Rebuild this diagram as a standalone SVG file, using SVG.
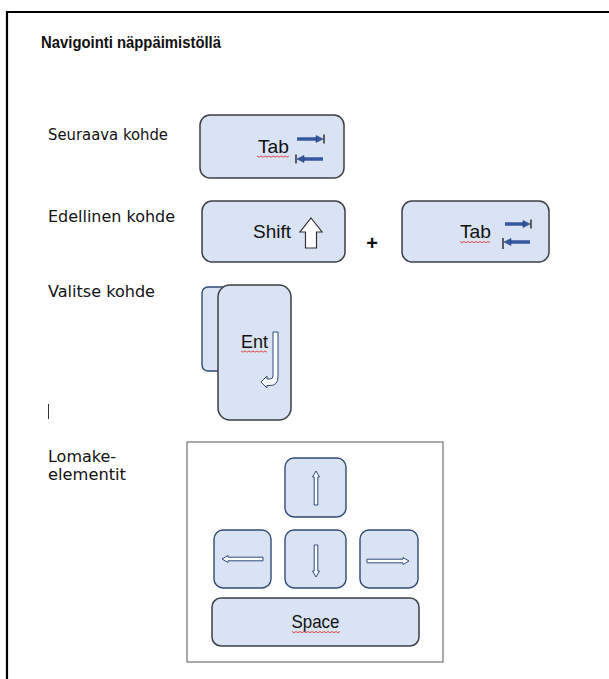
<svg xmlns="http://www.w3.org/2000/svg" width="609" height="679" viewBox="0 0 609 679">
<style>
.lbl{font-family:"DejaVu Sans","Liberation Sans",Arial,sans-serif;font-size:16px;fill:#111}
.ttl{font-family:"Liberation Sans",Arial,sans-serif;font-size:16.5px;font-weight:bold;fill:#111}
.kt{font-family:"Liberation Sans",Arial,sans-serif;font-size:19px;fill:#111}
.key{fill:#dae3f3;stroke:#3c3f45;stroke-width:1.5}
.keyb{fill:#dae3f3;stroke:#2f4a78;stroke-width:1.4}
.blk{fill:#ffffff;stroke:#2f4a78;stroke-width:1}
.tabbar{stroke:#34599e;stroke-width:3.5;fill:none}
.tabhead{fill:#34599e;stroke:#23407a;stroke-width:0.6}
.stop{stroke:#222;stroke-width:1.4}
.sq{fill:none;stroke:#e03a3a;stroke-width:0.9}
</style>
<path d="M7,679 V12 H609" fill="none" stroke="#000" stroke-width="2.2"/>
<text class="ttl" x="41" y="48" textLength="180" lengthAdjust="spacingAndGlyphs">Navigointi näppäimistöllä</text>
<g id="labels">
<text class="lbl" x="48" y="140" textLength="120" lengthAdjust="spacingAndGlyphs">Seuraava kohde</text>
<text class="lbl" x="48" y="222" textLength="127" lengthAdjust="spacingAndGlyphs">Edellinen kohde</text>
<text class="lbl" x="48" y="297" textLength="107" lengthAdjust="spacingAndGlyphs">Valitse kohde</text>
<line x1="48.5" y1="404" x2="48.5" y2="419" stroke="#333" stroke-width="1"/>
<text class="lbl" x="48" y="462" textLength="68" lengthAdjust="spacingAndGlyphs">Lomake-</text>
<text class="lbl" x="48" y="480" textLength="78" lengthAdjust="spacingAndGlyphs">elementit</text>
</g>
<g id="tab1">
<rect class="key" x="200" y="115" width="144" height="63" rx="10"/>
<text class="kt" x="258" y="153" textLength="31" lengthAdjust="spacingAndGlyphs">Tab</text>
<path class="sq" d="M257,156 l2,1.2 l2,-1.2 l2,1.2 l2,-1.2 l2,1.2 l2,-1.2 l2,1.2 l2,-1.2 l2,1.2 l2,-1.2 l2,1.2 l2,-1.2 l2,1.2 l2,-1.2 l2,1.2 l2,-1.2"/>
<line class="tabbar" x1="297" y1="139" x2="317" y2="139"/>
<polygon class="tabhead" points="316,135.5 323,139 316,142.5"/>
<line class="stop" x1="324" y1="134.5" x2="324" y2="143.5"/>
<line class="tabbar" x1="303" y1="159" x2="323" y2="159"/>
<polygon class="tabhead" points="304,155.5 297,159 304,162.5"/>
<line class="stop" x1="296" y1="154.5" x2="296" y2="163.5"/>
</g>
<g id="shift">
<rect class="key" x="202" y="201" width="143" height="61" rx="10"/>
<text class="kt" x="253" y="238" textLength="38" lengthAdjust="spacingAndGlyphs">Shift</text>
<polygon points="311,218 322,232 316.5,232 316.5,248 305.5,248 305.5,232 300,232" fill="#fff" stroke="#333" stroke-width="1.2"/>
</g>
<text id="plus" x="372" y="250" text-anchor="middle" font-family="Liberation Sans,Arial,sans-serif" font-size="20" font-weight="bold" fill="#111">+</text>
<g id="tab2">
<rect class="key" x="402" y="201" width="147" height="61" rx="10"/>
<text class="kt" x="460" y="238" textLength="31" lengthAdjust="spacingAndGlyphs">Tab</text>
<path class="sq" d="M460,241.5 l2,1.2 l2,-1.2 l2,1.2 l2,-1.2 l2,1.2 l2,-1.2 l2,1.2 l2,-1.2 l2,1.2 l2,-1.2 l2,1.2 l2,-1.2 l2,1.2 l2,-1.2 l2,1.2"/>
<line class="tabbar" x1="505" y1="224" x2="524" y2="224"/>
<polygon class="tabhead" points="523,220.5 530,224 523,227.5"/>
<line class="stop" x1="531" y1="219.5" x2="531" y2="228.5"/>
<line class="tabbar" x1="510" y1="242" x2="530" y2="242"/>
<polygon class="tabhead" points="511,238.5 504,242 511,245.5"/>
<line class="stop" x1="503" y1="238" x2="503" y2="249"/>
</g>
<g id="enter">
<rect class="keyb" x="202" y="287" width="40" height="84" rx="6"/>
<rect class="key" x="218" y="285" width="73" height="135" rx="12"/>
<text class="kt" x="241" y="348" textLength="27" lengthAdjust="spacingAndGlyphs">Ent</text>
<path class="sq" d="M241,351 l2,1.2 l2,-1.2 l2,1.2 l2,-1.2 l2,1.2 l2,-1.2 l2,1.2 l2,-1.2 l2,1.2 l2,-1.2 l2,1.2 l2,-1.2 l2,1.2"/>
<path class="blk" d="M273,332 H278 V377 Q278,385.5 270,385.5 H267 V388 L261,382 L267,376 V379 H270 Q273,379 273,376 Z"/>
</g>
<g id="lomake">
<rect x="187" y="442" width="256" height="220" fill="#fff" stroke="#555" stroke-width="1"/>
<g id="key-up">
<rect class="keyb" x="285" y="458" width="61" height="59" rx="9"/>
<polygon class="blk" points="316,471 319.5,477 317.8,477 317.8,505 314.2,505 314.2,477 312.5,477"/>
</g>
<g id="key-left">
<rect class="keyb" x="214" y="530" width="57" height="58" rx="9"/>
<polygon class="blk" points="222,559 228,555.5 228,557.2 263,557.2 263,560.8 228,560.8 228,562.5"/>
</g>
<g id="key-down">
<rect class="keyb" x="285" y="530" width="61" height="58" rx="9"/>
<polygon class="blk" points="316,577 319.5,571 317.8,571 317.8,545 314.2,545 314.2,571 312.5,571"/>
</g>
<g id="key-right">
<rect class="keyb" x="360" y="530" width="58" height="58" rx="9"/>
<polygon class="blk" points="409,561 403,557.5 403,559.2 367,559.2 367,562.8 403,562.8 403,564.5"/>
</g>
<g id="key-space">
<rect class="key" x="212" y="598" width="207" height="48" rx="9"/>
<text class="kt" x="315.5" y="628" text-anchor="middle" textLength="48" lengthAdjust="spacingAndGlyphs">Space</text>
<path class="sq" d="M292,631.5 l2,1.2 l2,-1.2 l2,1.2 l2,-1.2 l2,1.2 l2,-1.2 l2,1.2 l2,-1.2 l2,1.2 l2,-1.2 l2,1.2 l2,-1.2 l2,1.2 l2,-1.2 l2,1.2 l2,-1.2 l2,1.2 l2,-1.2 l2,1.2 l2,-1.2 l2,1.2 l2,-1.2 l2,1.2 l2,-1.2"/>
</g>
</g>
</svg>
